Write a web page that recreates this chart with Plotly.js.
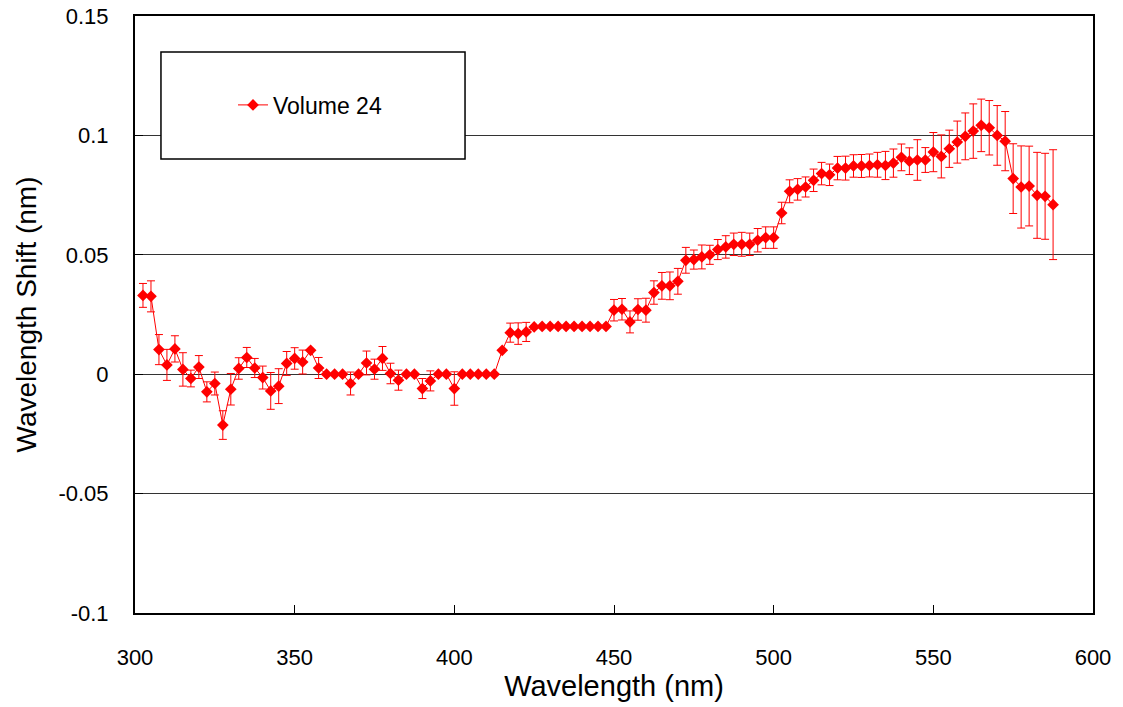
<!DOCTYPE html>
<html>
<head>
<meta charset="utf-8">
<script src="https://cdn.plot.ly/plotly-3.0.1.min.js"></script>
<style>html,body{margin:0;padding:0;background:#fff;}#chart{width:1123px;height:707px;}</style>
</head>
<body>
<div id="chart"></div>
<script>
const wavelength = [
302.5,305,307.5,310,312.5,315,317.5,320,322.5,325,
327.5,330,332.5,335,337.5,340,342.5,345,347.5,350,
352.5,355,357.5,360,362.5,365,367.5,370,372.5,375,
377.5,380,382.5,385,387.5,390,392.5,395,397.5,400,
402.5,405,407.5,410,412.5,415,417.5,420,422.5,425,
427.5,430,432.5,435,437.5,440,442.5,445,447.5,450,
452.5,455,457.5,460,462.5,465,467.5,470,472.5,475,
477.5,480,482.5,485,487.5,490,492.5,495,497.5,500,
502.5,505,507.5,510,512.5,515,517.5,520,522.5,525,
527.5,530,532.5,535,537.5,540,542.5,545,547.5,550,
552.5,555,557.5,560,562.5,565,567.5,570,572.5,575,
577.5,580,582.5,585,587.5];
const shift = [
0.033,0.0326,0.0103,0.0039,0.0106,0.002,-0.0018,0.003,-0.0074,-0.0039,
-0.0213,-0.0063,0.0024,0.007,0.0026,-0.0014,-0.007,-0.005,0.0045,0.0066,
0.0051,0.01,0.0026,0,0,0,-0.0039,0,0.0047,0.0021,
0.0066,0.0003,-0.0025,0,0,-0.006,-0.0028,0,0,-0.006,
0,0,0,0,0,0.01,0.0174,0.017,0.0177,0.0198,
0.02,0.02,0.02,0.02,0.02,0.02,0.02,0.02,0.02,0.0268,
0.0272,0.0219,0.0271,0.0268,0.0342,0.037,0.037,0.0389,0.0477,0.048,
0.0491,0.05,0.0522,0.0533,0.0544,0.0544,0.0544,0.0561,0.0572,0.0572,
0.0675,0.0766,0.0774,0.0784,0.0812,0.084,0.0835,0.0863,0.0863,0.0872,
0.0872,0.0874,0.0877,0.0874,0.0884,0.0908,0.0892,0.0897,0.0897,0.093,
0.0912,0.0944,0.0972,0.0996,0.1018,0.1042,0.1032,0.1,0.0976,0.0819,
0.0784,0.0788,0.0749,0.0745,0.071];
const shiftError = [
0.005,0.0065,0.0063,0.0065,0.0055,0.007,0.0035,0.0048,0.0042,0.0048,
0.006,0.0066,0.0045,0.0042,0.004,0.0048,0.0077,0.0073,0.005,0.0045,
0.005,0,0.0044,0,0,0,0.0048,0,0.005,0.0042,
0.005,0.0043,0.0042,0,0,0.0042,0.0042,0,0,0.007,
0,0,0,0,0,0,0.004,0.0045,0.004,0,
0,0,0,0,0,0,0,0,0,0.0045,
0.0045,0.0046,0.0045,0.005,0.0049,0.0056,0.0058,0.0054,0.0054,0.004,
0.005,0.004,0.0042,0.0047,0.0047,0.005,0.0047,0.0049,0.0045,0.0045,
0.0045,0.0048,0.0045,0.0042,0.0047,0.0047,0.0045,0.0049,0.005,0.0047,
0.0048,0.0048,0.0052,0.0059,0.0059,0.0056,0.0056,0.0085,0.0052,0.0082,
0.009,0.0078,0.0088,0.0098,0.0114,0.011,0.0114,0.0125,0.0124,0.0146,
0.0172,0.0167,0.018,0.018,0.023];
const seriesName = 'Volume 24';
const yTicks = [-0.1,-0.05,0,0.05,0.1,0.15];
const yTickText = ['-0.1','-0.05','0','0.05','0.1','0.15'];
const xTicks = [300,350,400,450,500,550,600];

const FONT = 'Liberation Sans, Arial, sans-serif';
const trace = {
  x: wavelength, y: shift, type: 'scatter', mode: 'lines+markers', name: seriesName,
  line: {color: '#ff0000', width: 1},
  marker: {symbol: 'diamond', size: 9, color: '#ff0000'},
  error_y: {type: 'data', array: shiftError, visible: true, color: '#ff0000', thickness: 1, width: 4}
};
const layout = {
  width: 1123, height: 707,
  margin: {l: 135, r: 30, t: 16, b: 94},
  paper_bgcolor: '#fff', plot_bgcolor: '#fff',
  font: {family: FONT, color: '#000', size: 22},
  showlegend: true,
  legend: {x: 0.1023, y: 0.851, xanchor: 'left', yanchor: 'middle', bgcolor: 'rgba(0,0,0,0)', borderwidth: 0, font: {family: FONT, size: 23}},
  xaxis: {
    range: [300, 600], tickvals: xTicks, ticktext: xTicks.map(String),
    showgrid: false, zeroline: false, showline: true, linecolor: '#000', linewidth: 2, mirror: true,
    ticks: 'inside', ticklen: 8, tickcolor: '#000', tickwidth: 1, ticklabelstandoff: 24,
    tickfont: {family: FONT, size: 22},
    title: {text: 'Wavelength (nm)', font: {family: FONT, size: 29}, standoff: 4}
  },
  yaxis: {
    range: [-0.1, 0.15], tickvals: yTicks, ticktext: yTickText,
    showgrid: true, gridcolor: '#333', gridwidth: 1, zeroline: false,
    showline: true, linecolor: '#000', linewidth: 2, mirror: true,
    ticks: 'inside', ticklen: 8, tickcolor: '#000', tickwidth: 1, ticklabelstandoff: 20,
    tickfont: {family: FONT, size: 22},
    title: {text: 'Wavelength Shift (nm)', font: {family: FONT, size: 28}, standoff: 14}
  },
  shapes: [{
    type: 'rect', xref: 'paper', yref: 'paper', x0: 0.0271, x1: 0.3445, y0: 0.7605, y1: 0.9397,
    line: {color: '#000', width: 1.5}, fillcolor: '#fff', layer: 'above'
  }]
};
Plotly.newPlot('chart', [trace], layout, {displayModeBar: false, staticPlot: true});
</script>
</body>
</html>
